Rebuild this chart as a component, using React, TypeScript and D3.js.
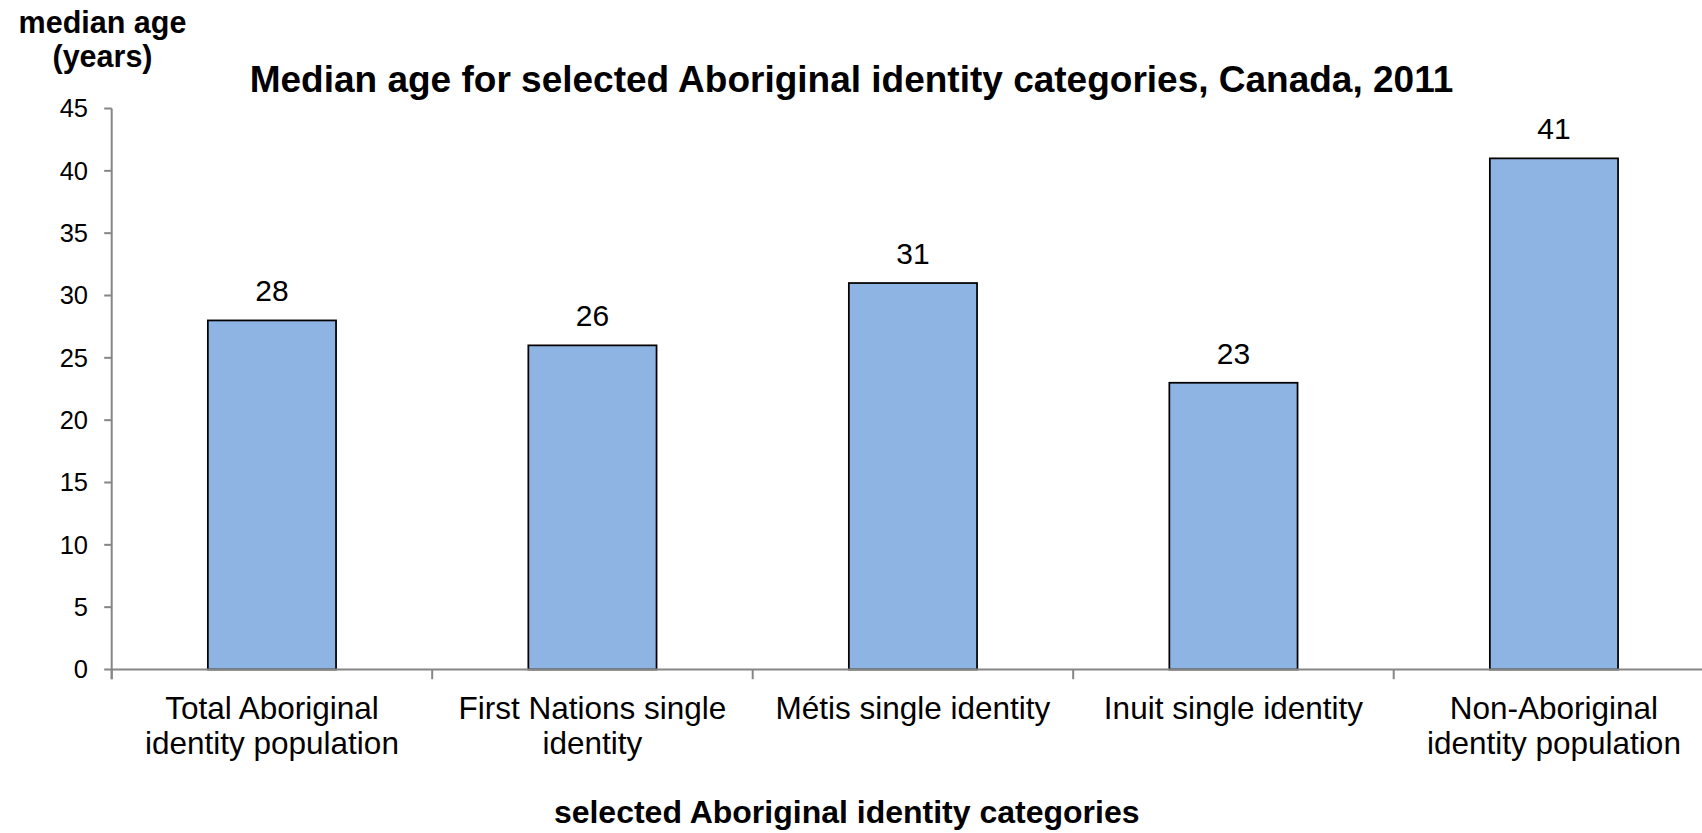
import React, { useEffect } from "react";
import * as d3 from "d3";

const categories: string[][] = [
  ["Total Aboriginal", "identity population"],
  ["First Nations single", "identity"],
  ["Métis single identity"],
  ["Inuit single identity"],
  ["Non-Aboriginal", "identity population"],
];
const categoryKeys = categories.map((c) => c.join(" "));
const medianAges: number[] = [28, 26, 31, 23, 41];
const yTicks: number[] = [0, 5, 10, 15, 20, 25, 30, 35, 40, 45];

const chartTitle = "Median age for selected Aboriginal identity categories, Canada, 2011";
const yTitle = ["median age", "(years)"];
const xTitle = "selected Aboriginal identity categories";

const W = 1702;
const H = 833;
const FONT = "'Liberation Sans', Arial, Helvetica, sans-serif";
const AXIS = "#868686";

export default function App() {
  useEffect(() => {
    document.body.style.margin = "0";
    document.body.style.overflow = "hidden";
  }, []);

  const left = 111.7;
  const y = d3.scaleLinear().domain([0, 45]).range([669.5, 108.5]);
  const step = 320.5;
  const x = d3
    .scaleBand<string>()
    .domain(categoryKeys)
    .range([left, left + step * categoryKeys.length])
    .paddingInner(0.6)
    .paddingOuter(0.3);
  const bw = x.bandwidth();
  const y0 = y(0);
  const xEnd = left + step * categoryKeys.length;

  return (
    <svg width={W} height={H} style={{ display: "block", position: "absolute", left: 0, top: 0 }} fontFamily={FONT}>
      <rect x={0} y={0} width={W} height={H} fill="#ffffff" />
      {/* Title */}
      <text x={851.5} y={91.7} textAnchor="middle" fontSize={37} fontWeight="bold" fill="#000">
        {chartTitle}
      </text>
      {/* Y title */}
      <text x={102.5} y={33.3} textAnchor="middle" fontSize={30.5} fontWeight="bold" fill="#000">
        {yTitle[0]}
      </text>
      <text x={102.5} y={66.5} textAnchor="middle" fontSize={30.5} fontWeight="bold" fill="#000">
        {yTitle[1]}
      </text>
      {/* X title */}
      <text x={846.7} y={823} textAnchor="middle" fontSize={32} fontWeight="bold" fill="#000">
        {xTitle}
      </text>

      {/* Bars */}
      {medianAges.map((v, i) => (
        <rect
          key={i}
          x={x(categoryKeys[i])!}
          y={y(v)}
          width={bw}
          height={y0 - y(v)}
          fill="#8EB4E3"
          stroke="#000"
          strokeWidth={1.75}
        />
      ))}
      {/* Value labels */}
      {medianAges.map((v, i) => (
        <text
          key={i}
          x={x(categoryKeys[i])! + bw / 2}
          y={y(v) - 19}
          textAnchor="middle"
          fontSize={30}
          fill="#000"
        >
          {v}
        </text>
      ))}

      {/* Y axis */}
      <line x1={left} x2={left} y1={y(45)} y2={y0 + 9.7} stroke={AXIS} strokeWidth={2} />
      {yTicks.map((t) => (
        <g key={t}>
          <line x1={left - 7.5} x2={left} y1={y(t)} y2={y(t)} stroke={AXIS} strokeWidth={2} />
          <text x={88} y={y(t)} dy="0.35em" textAnchor="end" fontSize={25.5} fill="#000">
            {t}
          </text>
        </g>
      ))}

      {/* X axis */}
      <line x1={left} x2={xEnd} y1={y0} y2={y0} stroke={AXIS} strokeWidth={2} />
      {d3.range(categoryKeys.length + 1).map((k) => (
        <line
          key={k}
          x1={left + k * step}
          x2={left + k * step}
          y1={y0}
          y2={y0 + 9.7}
          stroke={AXIS}
          strokeWidth={2}
        />
      ))}
      {categories.map((lines, i) => (
        <text
          key={i}
          x={x(categoryKeys[i])! + bw / 2}
          y={719.3}
          textAnchor="middle"
          fontSize={31.5}
          fill="#000"
        >
          {lines.map((ln, j) => (
            <tspan key={j} x={x(categoryKeys[i])! + bw / 2} dy={j === 0 ? 0 : 34.7}>
              {ln}
            </tspan>
          ))}
        </text>
      ))}
    </svg>
  );
}
